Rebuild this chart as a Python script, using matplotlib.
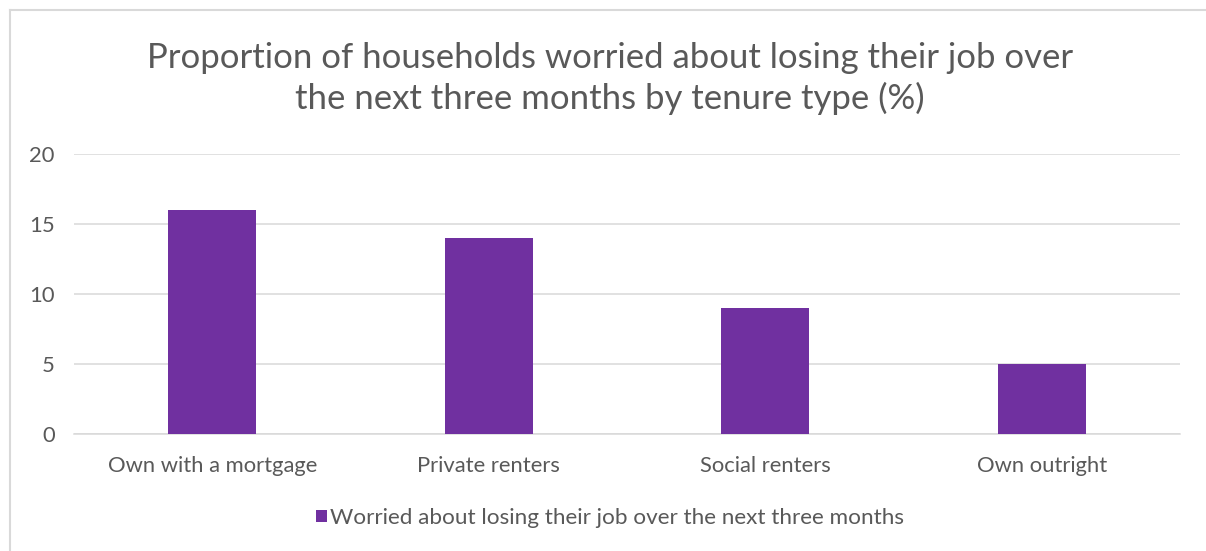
import matplotlib
matplotlib.use("Agg")
import matplotlib.pyplot as plt
from matplotlib.lines import Line2D
from matplotlib.patches import Patch

categories = ["Own with a mortgage", "Private renters", "Social renters", "Own outright"]
worried = [16, 14, 9, 5]
series_name = "Worried about losing their job over the next three months"
title = "Proportion of households worried about losing their job over\nthe next three months by tenure type (%)"
y_ticks = [0, 5, 10, 15, 20]

W, H = 1206, 551
DPI = 100
BAR = "#7030a0"
TEXT = "#595959"
GRID = "#d9d9d9"

plt.rcParams["font.family"] = ["Lato", "DejaVu Sans"]

fig = plt.figure(figsize=(W / DPI, H / DPI), dpi=DPI)
fig.patch.set_facecolor("white")

# plot area in pixel terms
left, right, top, bottom = 74, 1180, 154, 434
ax = fig.add_axes([left / W, 1 - bottom / H, (right - left) / W, (bottom - top) / H])

x = range(len(categories))
ax.bar(x, worried, width=0.32, color=BAR, zorder=3)

ax.set_xlim(-0.5, len(categories) - 0.5)
ax.set_ylim(0, 20)
ax.set_yticks(y_ticks)
ax.set_xticks(list(x))
ax.set_xticklabels(categories)
ax.grid(axis="y", color=GRID, linewidth=1.1, zorder=0)
ax.set_axisbelow(True)

for side in ("top", "right", "left"):
    ax.spines[side].set_visible(False)
ax.spines["bottom"].set_color(GRID)
ax.spines["bottom"].set_linewidth(1.1)

ax.tick_params(axis="both", length=0, colors=TEXT, labelsize=15.8)
ax.tick_params(axis="y", pad=14)
ax.tick_params(axis="x", pad=15.5)

fig.text(0.506, 1 - 78.5 / H, title, ha="center", va="center", fontsize=25,
         color=TEXT, linespacing=1.3)

fig.legend(handles=[Patch(facecolor=BAR, edgecolor="none", label=series_name)],
           loc="center", bbox_to_anchor=(610 / W, 1 - 518 / H), frameon=False,
           fontsize=16.2, handlelength=0.5, handleheight=0.5, handletextpad=0.15,
           labelcolor=TEXT)

# chart frame edges
fig.add_artist(Line2D([10 / W, 1], [1 - 9.5 / H] * 2, color=GRID, linewidth=1.5))
fig.add_artist(Line2D([10 / W] * 2, [0, 1 - 9.5 / H], color=GRID, linewidth=1.5))

fig.savefig("out.png", dpi=DPI, facecolor="white")
